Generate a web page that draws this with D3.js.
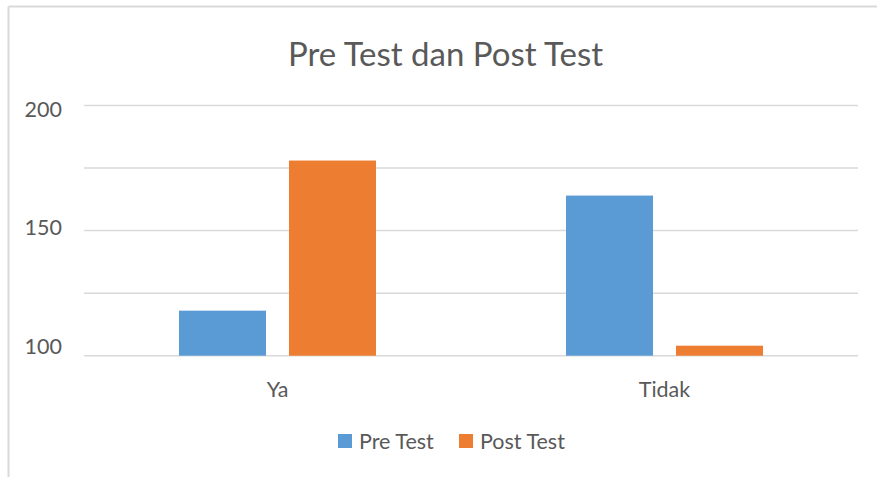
<!DOCTYPE html>
<html>
<head>
<meta charset="utf-8">
<script src="https://cdn.jsdelivr.net/npm/d3@7/dist/d3.min.js"></script>
<style>
  html, body { margin: 0; padding: 0; background: #fff; }
  svg { display: block; }
  text { font-family: Lato, "Open Sans", sans-serif; fill: #595959; }
</style>
</head>
<body>
<svg id="chart" width="877" height="477"></svg>
<script>
const title = "Pre Test dan Post Test";
const categories = ["Ya", "Tidak"];
const seriesNames = ["Pre Test", "Post Test"];
const preTest = [118, 164];
const postTest = [178, 104];
const yTicks = [100, 125, 150, 175, 200];
const yTickLabels = [100, 150, 200];
const colors = ["#5b9bd5", "#ed7d31"];

const seriesValues = [preTest, postTest];
const svg = d3.select("#chart");
const W = 877, H = 477;
const plot = { left: 84, right: 858, top: 105.5, bottom: 355.7 };

// chart frame (top and left edges visible)
svg.append("line").attr("x1", 8.5).attr("x2", W).attr("y1", 6.5).attr("y2", 6.5)
  .attr("stroke", "#d9d9d9").attr("stroke-width", 2);
svg.append("line").attr("x1", 8.5).attr("x2", 8.5).attr("y1", 6.5).attr("y2", H)
  .attr("stroke", "#d9d9d9").attr("stroke-width", 2);

const y = d3.scaleLinear().domain([100, 200]).range([plot.bottom, plot.top]);
const x0 = d3.scaleBand().domain(categories).range([plot.left, plot.right]).padding(0);
const groupW = x0.bandwidth() * 0.509;
const x1 = d3.scaleBand().domain(seriesNames)
  .range([(x0.bandwidth() - groupW) / 2, (x0.bandwidth() + groupW) / 2])
  .paddingInner(0.209).paddingOuter(0);

// gridlines
svg.append("g").selectAll("line").data(yTicks).join("line")
  .attr("x1", plot.left).attr("x2", plot.right)
  .attr("y1", d => y(d)).attr("y2", d => y(d))
  .attr("stroke", "#d9d9d9").attr("stroke-width", 1.5);

// y labels
const yLab = y.copy().range([y(100) - 10, y(200) + 3]);
svg.append("g").selectAll("text").data(yTickLabels).join("text")
  .attr("x", 62).attr("y", d => yLab(d))
  .attr("text-anchor", "end").attr("dominant-baseline", "central")
  .style("font-size", "21.5px").text(d => d);

// bars
const groups = svg.append("g").selectAll("g").data(categories).join("g")
  .attr("transform", c => `translate(${x0(c)},0)`);
groups.selectAll("rect").data((c, ci) => seriesNames.map((s, si) => ({ s, si, v: seriesValues[si][ci] })))
  .join("rect")
  .attr("x", d => x1(d.s)).attr("width", x1.bandwidth())
  .attr("y", d => y(d.v)).attr("height", d => y(100) - y(d.v))
  .attr("fill", d => colors[d.si]);

// category labels
svg.append("g").selectAll("text").data(categories).join("text")
  .attr("x", c => x0(c) + x0.bandwidth() / 2).attr("y", 397)
  .attr("text-anchor", "middle").style("font-size", "21.5px").text(c => c);

// title
svg.append("text").attr("x", (8 + W) / 2 + 3).attr("y", 66)
  .attr("text-anchor", "middle").style("font-size", "33px").text(title);

// legend
const legendX = [338, 459];
const lg = svg.append("g").selectAll("g").data(seriesNames).join("g")
  .attr("transform", (d, i) => `translate(${legendX[i]},434)`);
lg.append("rect").attr("width", 14).attr("height", 14).attr("fill", (d, i) => colors[i]);
lg.append("text").attr("x", 21).attr("y", 15).style("font-size", "21.5px").text(d => d);
</script>
</body>
</html>
